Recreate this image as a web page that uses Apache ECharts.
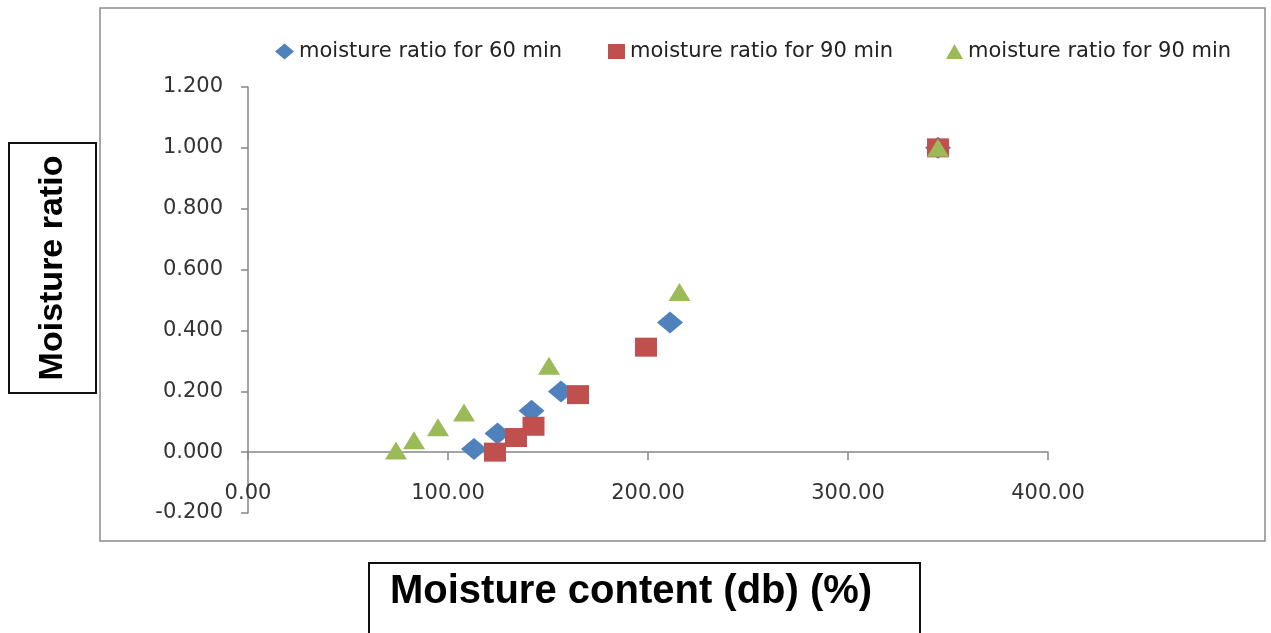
<!DOCTYPE html>
<html>
<head>
<meta charset="utf-8">
<script src="https://cdn.jsdelivr.net/npm/echarts@6/dist/echarts.min.js"></script>
<style>
html,body{margin:0;padding:0;background:#fff;}
#chart{width:1271px;height:633px;}
</style>
</head>
<body>
<div id="chart"></div>
<script>
// ---- data ----
const seriesNames = ['moisture ratio for 60 min', 'moisture ratio for 90 min', 'moisture ratio for 90 min '];
const x60 = [113, 124.75, 141.75, 156.5, 211, 345];
const y60 = [0.010, 0.061, 0.136, 0.199, 0.426, 1.000];
const x90a = [123.5, 134, 142.75, 165, 199, 345];
const y90a = [0.000, 0.048, 0.085, 0.189, 0.345, 1.000];
const x90b = [74, 83, 95, 108, 150.5, 215.75, 345];
const y90b = [0.005, 0.039, 0.082, 0.130, 0.284, 0.526, 1.000];
const xTitle = 'Moisture content (db) (%)';
const yTitle = 'Moisture ratio';

function pairs(xs, ys) { return xs.map((x, i) => [x, ys[i]]); }

const chart = echarts.init(document.getElementById('chart'), null, {renderer: 'canvas'});
const labelFont = 'DejaVu Sans';
const axisColor = '#878787';
const legendText = {fontFamily: labelFont, fontSize: 21, color: '#222'};

const option = {
  animation: false,
  backgroundColor: '#ffffff',
  grid: {left: 248, top: 87, width: 800, height: 426, containLabel: false},
  legend: [
    {data: [seriesNames[0]], left: 270, top: 36, itemWidth: 19, itemHeight: 16, textStyle: legendText},
    {data: [seriesNames[1]], left: 603, top: 36, itemWidth: 17, itemHeight: 15, textStyle: legendText},
    {data: [seriesNames[2]], left: 941, top: 36, itemWidth: 17, itemHeight: 15, textStyle: legendText}
  ],
  xAxis: {
    type: 'value', min: 0, max: 400, interval: 100,
    axisLine: {show: true, onZero: true, lineStyle: {color: axisColor, width: 1.5}},
    axisTick: {show: true, inside: false, length: 8, lineStyle: {color: axisColor, width: 1.5}},
    splitLine: {show: false},
    axisLabel: {margin: -30, fontFamily: labelFont, fontSize: 21, color: '#333',
                formatter: v => v.toFixed(2)}
  },
  yAxis: {
    type: 'value', min: -0.2, max: 1.2, interval: 0.2,
    axisLine: {show: true, onZero: false, lineStyle: {color: axisColor, width: 1.5}},
    axisTick: {show: true, inside: false, length: 7, lineStyle: {color: axisColor, width: 1.5}},
    splitLine: {show: false},
    axisLabel: {margin: 25, fontFamily: labelFont, fontSize: 21, color: '#333',
                formatter: v => v.toFixed(3)}
  },
  series: [
    {name: seriesNames[0], type: 'scatter', symbol: 'diamond', symbolSize: [26, 22],
     itemStyle: {color: '#4F81BD', opacity: 1}, data: pairs(x60, y60)},
    {name: seriesNames[1], type: 'scatter', symbol: 'rect', symbolSize: [22, 19],
     itemStyle: {color: '#C0504D', opacity: 1}, data: pairs(x90a, y90a)},
    {name: seriesNames[2], type: 'scatter', symbol: 'triangle', symbolSize: [22, 18],
     itemStyle: {color: '#9BBB59', opacity: 1}, data: pairs(x90b, y90b)}
  ],
  graphic: [
    {type: 'rect', shape: {x: 100, y: 8, width: 1165, height: 533}, silent: true,
     style: {fill: 'none', stroke: '#8c8c8c', lineWidth: 1.5}, z: -1},
    {type: 'rect', shape: {x: 9, y: 143, width: 87, height: 250}, silent: true,
     style: {fill: '#fff', stroke: '#111', lineWidth: 2}},
    {type: 'text', x: 53, y: 268, rotation: Math.PI / 2, silent: true,
     style: {text: yTitle, fontFamily: 'Liberation Sans', fontWeight: 'bold', fontSize: 34,
             fill: '#000', align: 'center', verticalAlign: 'middle'}},
    {type: 'rect', shape: {x: 369, y: 563, width: 551, height: 90}, silent: true,
     style: {fill: '#fff', stroke: '#111', lineWidth: 2}},
    {type: 'text', x: 390, y: 592, silent: true,
     style: {text: xTitle, fontFamily: 'Liberation Sans', fontWeight: 'bold', fontSize: 40,
             fill: '#000', align: 'left', verticalAlign: 'middle'}}
  ]
};
chart.setOption(option);
</script>
</body>
</html>
